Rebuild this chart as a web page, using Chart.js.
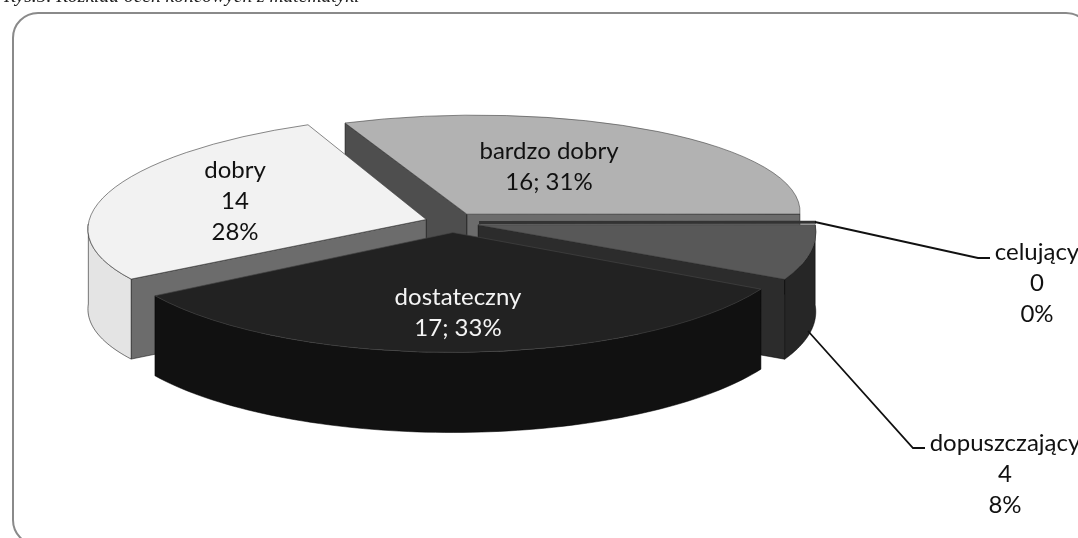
<!DOCTYPE html>
<html><head><meta charset="utf-8">
<style>
html,body{margin:0;padding:0;background:#fff;overflow:hidden}
#wrap{position:relative;width:1078px;height:538px;overflow:hidden;filter:blur(0.4px)}
#title{position:absolute;left:4px;top:-15px;font:italic 19.5px "Liberation Serif",serif;color:#222;white-space:nowrap}
#frame{position:absolute;left:12px;top:12px;width:1080px;height:534px;border:2px solid #8a8a8a;border-radius:26px;box-sizing:border-box}
canvas{position:absolute;left:0;top:0}
</style>
<script src="https://cdn.jsdelivr.net/npm/chart.js@4"></script>
</head><body>
<div id="wrap">
<div id="title">Rys.5. Rozkład ocen końcowych z matematyki</div>
<div id="frame"></div>
<canvas id="c" width="1078" height="538"></canvas>
</div>
<script>
const categories = ['bardzo dobry','celujący','dopuszczający','dostateczny','dobry'];
const counts = [16,0,4,17,14];
const percents = [31,0,8,33,28];
const topColors = ['#b2b2b2','#333333','#585858','#222222','#f2f2f2'];
const outerColors = ['#8c8c8c','#666666','#262626','#111111','#e4e4e4'];
const startWallColors = ['#4e4e4e','#333333','#2c2c2c','#1a1a1a','#6c6c6c'];
const endWallColors = ['#6c6c6c','#333333','#2c2c2c','#1a1a1a','#6c6c6c'];
const labelColors = ['#111','#111','#111','#f4f4f4','#111'];
const labelLines = [
  [categories[0], counts[0]+'; '+percents[0]+'%'],
  [categories[1], ''+counts[1], percents[1]+'%'],
  [categories[2], ''+counts[2], percents[2]+'%'],
  [categories[3], counts[3]+'; '+percents[3]+'%'],
  [categories[4], ''+counts[4], percents[4]+'%']
];
const labelAnchor = [[549,151],[1037,252],[1005,443],[458,297],[235,170]];
const leaders = [null,[[815,222],[978,258],[990,258]],[[808,331],[913,448],[925,448]],null,null];
// 3D view: per-slice projection of the unit circle [a,b,c,d]
const views = [[333,-9,0,99],[337,20,0,115],[337,20,0,115],[350,-1,0,120],[338,-15,-5,105]];
const pivot = [452,222.5], explode = [27,10], depth = 80;
const drawOrder = [0,4,2,1,3];

const pie3d = {
  id:'pie3d',
  beforeDatasetsDraw(chart){
    const ctx = chart.ctx, arcs = chart.getDatasetMeta(0).data;
    const poly = (pts,fill)=>{
      ctx.beginPath();
      pts.forEach((p,i)=> i?ctx.lineTo(p[0],p[1]):ctx.moveTo(p[0],p[1]));
      ctx.closePath(); ctx.fillStyle=fill; ctx.fill();
      ctx.strokeStyle='rgba(0,0,0,0.75)'; ctx.lineWidth=0.7; ctx.stroke();
    };
    drawOrder.forEach(i=>{
      const arc = arcs[i];
      const [a,b,c,d] = views[i];
      const s = arc.startAngle, e = arc.endAngle, mid=(s+e)/2;
      const ax = pivot[0]+Math.cos(mid)*explode[0], ay = pivot[1]+Math.sin(mid)*explode[1];
      const P = t=>{const x=Math.cos(t),y=Math.sin(t);return [ax+a*x+b*y, ay+c*x+d*y];};
      const low = p=>[p[0],p[1]+depth];
      const apex=[ax,ay];
      if(e-s<1e-6){ // empty slice: only a thin dark sliver shows
        const pS=P(s);
        ctx.beginPath();ctx.moveTo(apex[0],apex[1]);ctx.lineTo(pS[0],pS[1]);
        ctx.strokeStyle=topColors[i];ctx.lineWidth=3;ctx.stroke();
        return;
      }
      const pS=P(s), pE=P(e);
      // radial walls are drawn only where they face the viewer
      if(-(pS[0]-apex[0])>0) poly([apex,pS,low(pS),low(apex)],startWallColors[i]);
      if(pE[0]-apex[0]>0) poly([apex,pE,low(pE),low(apex)],endWallColors[i]);
      // outer wall, front-facing part
      const top=[]; const N=80;
      for(let k=0;k<=N;k++){const t=s+(e-s)*k/N; if(Math.sin(t)>=-0.02) top.push(P(t));}
      if(top.length>1) poly(top.concat(top.slice().reverse().map(low)),outerColors[i]);
      // top face: the library's own arc element through the projection
      const R=arc.outerRadius;
      ctx.save();
      ctx.transform(a/R,c/R,b/R,d/R,ax,ay);
      ctx.translate(-arc.x,-arc.y);
      arc.draw(ctx);
      ctx.restore();
    });
    ctx.textAlign='center';ctx.textBaseline='middle';
    ctx.font='24px Lato';
    labelLines.forEach((ls,i)=>{
      ctx.fillStyle=labelColors[i];
      ls.forEach((t,j)=>ctx.fillText(t,labelAnchor[i][0],labelAnchor[i][1]+j*31));
    });
    leaders.forEach(l=>{
      if(!l) return;
      ctx.beginPath();l.forEach((p,k)=>k?ctx.lineTo(p[0],p[1]):ctx.moveTo(p[0],p[1]));
      ctx.strokeStyle='#111';ctx.lineWidth=1.8;ctx.stroke();
    });
    return false;
  }
};

new Chart(document.getElementById('c'),{
  type:'pie',
  data:{labels:categories,datasets:[{data:counts,backgroundColor:topColors,borderColor:'#444',borderWidth:0.7,offset:0}]},
  options:{responsive:false,animation:false,radius:250,rotation:-23,
    plugins:{legend:{display:false},tooltip:{enabled:false}},layout:{padding:0}},
  plugins:[pie3d]
});
</script>
</body></html>
